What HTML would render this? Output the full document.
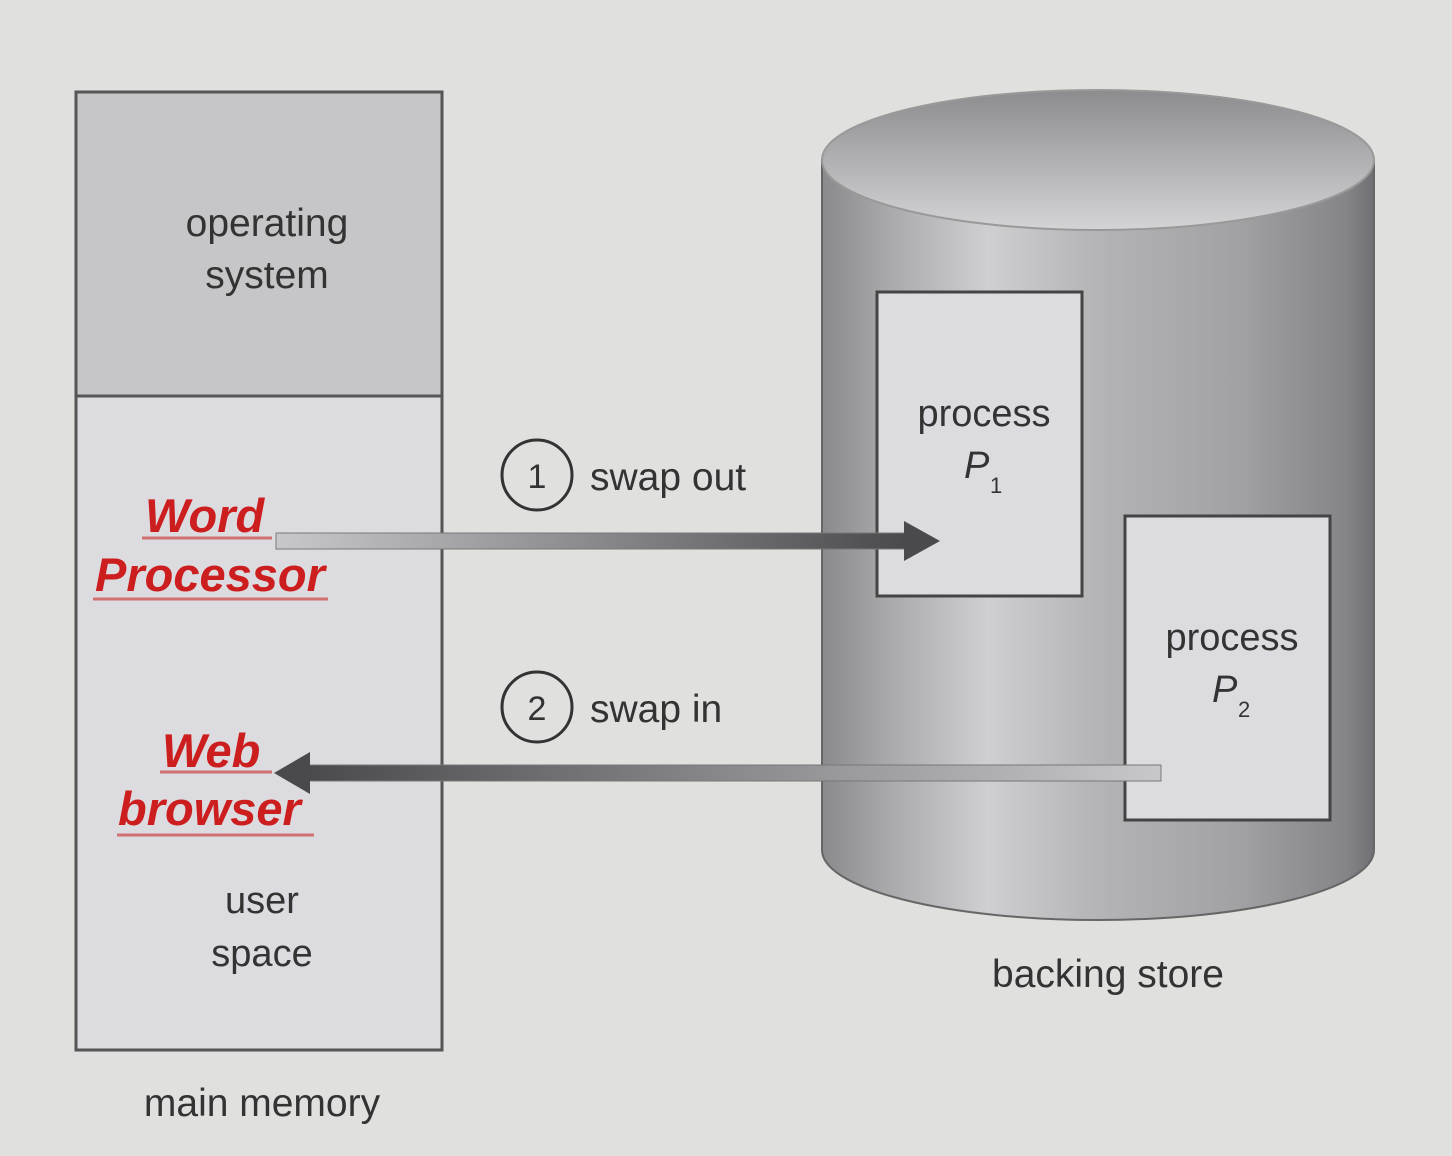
<!DOCTYPE html>
<html><head><meta charset="utf-8"><style>
html,body{margin:0;padding:0;background:#e0e0df;}
svg{display:block}
text{font-family:"Liberation Sans",sans-serif;}
</style></head><body>
<svg width="1452" height="1156" viewBox="0 0 1452 1156" xmlns="http://www.w3.org/2000/svg">
<defs>
<linearGradient id="side" x1="0" x2="1" y1="0" y2="0">
<stop offset="0" stop-color="#8a8a8c"/>
<stop offset="0.12" stop-color="#a9a9ab"/>
<stop offset="0.3" stop-color="#cfcfd1"/>
<stop offset="0.5" stop-color="#b4b4b6"/>
<stop offset="0.75" stop-color="#a2a2a4"/>
<stop offset="0.95" stop-color="#858588"/>
<stop offset="1" stop-color="#707074"/>
</linearGradient>
<linearGradient id="top" x1="0" x2="0" y1="0" y2="1">
<stop offset="0" stop-color="#8c8c8e"/>
<stop offset="0.5" stop-color="#b0b0b2"/>
<stop offset="1" stop-color="#d4d4d6"/>
</linearGradient>
<linearGradient id="arr1" x1="0" x2="1">
<stop offset="0" stop-color="#c8c8ca"/>
<stop offset="0.5" stop-color="#8a8a8c"/>
<stop offset="1" stop-color="#4a4a4c"/>
</linearGradient>
<linearGradient id="arr2" x1="0" x2="1">
<stop offset="0" stop-color="#4a4a4c"/>
<stop offset="0.5" stop-color="#8a8a8c"/>
<stop offset="1" stop-color="#c8c8ca"/>
</linearGradient>
</defs>
<rect width="1452" height="1156" fill="#e0e0df"/>
<rect x="76" y="92" width="366" height="304" fill="#c6c6c8" stroke="#555" stroke-width="3"/>
<rect x="76" y="396" width="366" height="654" fill="#dcdce0" stroke="#555" stroke-width="3"/>
<text x="267" y="236" font-size="39" text-anchor="middle" fill="#333">operating</text>
<text x="267" y="288" font-size="39" text-anchor="middle" fill="#333">system</text>
<text x="262" y="913" font-size="38" text-anchor="middle" fill="#333">user</text>
<text x="262" y="966" font-size="38" text-anchor="middle" fill="#333">space</text>
<text x="262" y="1116" font-size="39" text-anchor="middle" fill="#333">main memory</text>
<g fill="#cc1e1e" font-weight="bold" font-style="italic" font-size="47">
<text x="145" y="532">Word</text>
<text x="95" y="591">Processor</text>
<text x="162" y="767">Web</text>
<text x="118" y="825">browser</text>
</g>
<g stroke="#d07070" stroke-width="3">
<line x1="142" y1="538" x2="272" y2="538"/>
<line x1="93" y1="599" x2="328" y2="599"/>
<line x1="160" y1="772" x2="272" y2="772"/>
<line x1="117" y1="835" x2="314" y2="835"/>
</g>
<path d="M822 160 L822 850 A276 70 0 0 0 1374 850 L1374 160 Z" fill="url(#side)" stroke="#666" stroke-width="2"/>
<ellipse cx="1098" cy="160" rx="276" ry="70" fill="url(#top)" stroke="#999" stroke-width="2"/>
<rect x="877" y="292" width="205" height="304" fill="#dcdce0" stroke="#444" stroke-width="3"/>
<rect x="1125" y="516" width="205" height="304" fill="#dcdce0" stroke="#444" stroke-width="3"/>
<text x="984" y="426" font-size="38" text-anchor="middle" fill="#333">process</text>
<text x="964" y="478" font-size="38" font-style="italic" fill="#333">P</text><text x="990" y="493" font-size="22" fill="#333">1</text>
<text x="1232" y="650" font-size="38" text-anchor="middle" fill="#333">process</text>
<text x="1212" y="702" font-size="38" font-style="italic" fill="#333">P</text><text x="1238" y="717" font-size="22" fill="#333">2</text>
<text x="1108" y="987" font-size="39" text-anchor="middle" fill="#333">backing store</text>
<rect x="276" y="533" width="630" height="16" fill="url(#arr1)" stroke="#777" stroke-width="1"/>
<polygon points="904,521 940,541 904,561" fill="#4a4a4c"/>
<rect x="308" y="765" width="853" height="16" fill="url(#arr2)" stroke="#777" stroke-width="1"/>
<polygon points="310,752 274,773 310,794" fill="#4a4a4c"/>
<circle cx="537" cy="475" r="35" fill="none" stroke="#333" stroke-width="3"/>
<text x="537" y="488" font-size="34" text-anchor="middle" fill="#333">1</text>
<text x="590" y="490" font-size="39" fill="#333">swap out</text>
<circle cx="537" cy="707" r="35" fill="none" stroke="#333" stroke-width="3"/>
<text x="537" y="720" font-size="34" text-anchor="middle" fill="#333">2</text>
<text x="590" y="722" font-size="39" fill="#333">swap in</text>
</svg>
</body></html>
